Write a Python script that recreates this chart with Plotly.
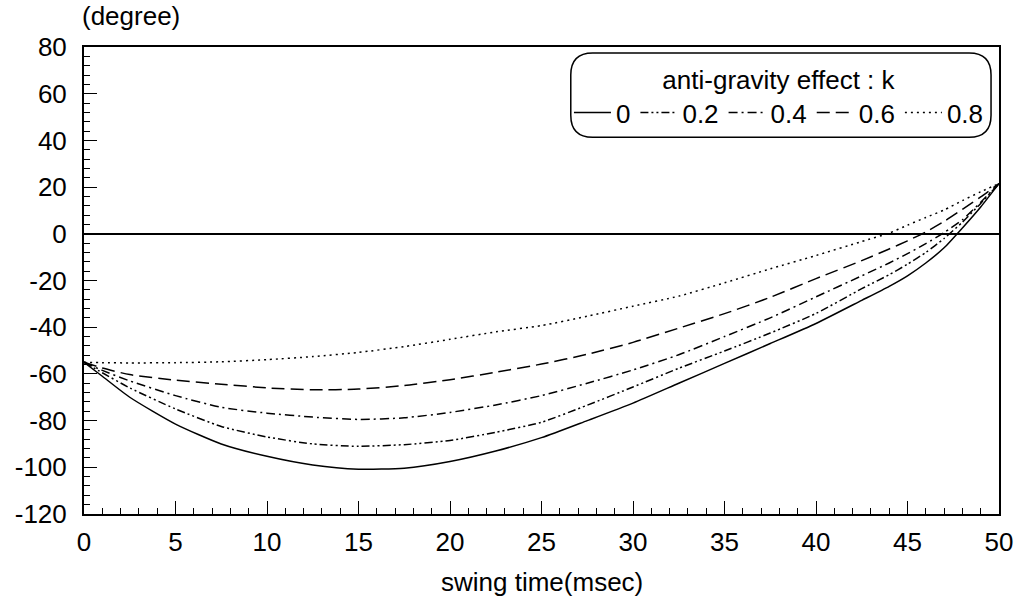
import plotly.graph_objects as go

# swing time (msec) sample points shared by every curve
swing_time = [0, 1, 2.5, 5, 7.5, 10, 12.5, 15, 17.5, 20, 22.5, 25, 27.5, 30,
              32.5, 35, 37.5, 40, 42.5, 44, 45, 46, 47, 48, 49, 50]

# angle (degree) for each anti-gravity coefficient k
angle_k00 = [-55, -61, -70, -81.5, -90, -95.3, -99, -100.8, -100.4, -97.5, -93, -87.3, -80, -72.5,
             -64, -55.5, -47, -38.4, -28.5, -22.5, -18, -12.5, -6, 2.5, 11.5, 21.5]
angle_k02 = [-55, -59.5, -66, -75, -82.5, -87, -90, -91, -90.3, -88.5, -85, -80.7, -73.4, -65.6,
             -57.6, -50.2, -42.5, -34.1, -23.5, -17.5, -13, -8, -2, 5, 13, 21.5]
angle_k04 = [-55, -58.5, -63, -69.3, -74.3, -76.8, -78.5, -79.5, -78.8, -76.5, -73.3, -69.3, -64, -58.3,
             -51.8, -44, -36, -27, -18, -12.5, -8.5, -4.2, 0.5, 6, 13.5, 21.5]
angle_k06 = [-55, -57.5, -60.3, -62.7, -64.4, -66, -66.8, -66.5, -65, -62.5, -59.3, -55.8, -51.6, -46.5,
             -40.4, -34.2, -27.2, -19.2, -11.5, -6.5, -3, 0.8, 5.3, 10.5, 15.8, 21.5]
angle_k08 = [-55, -55.2, -55.3, -55.2, -54.8, -53.9, -52.6, -50.8, -48.3, -45.2, -42, -39.3, -35.3, -31,
             -26.7, -21, -15, -9.3, -3.3, 0.3, 3.7, 7, 10.2, 14.2, 18, 21.5]

k_labels = ["0", "0.2", "0.4", "0.6", "0.8"]
x_ticks = [0, 5, 10, 15, 20, 25, 30, 35, 40, 45, 50]
y_ticks = [-120, -100, -80, -60, -40, -20, 0, 20, 40, 60, 80]

series = [angle_k00, angle_k02, angle_k04, angle_k06, angle_k08]
dashes = ["solid", "8px,3px,2px,3px,2px,3px", "9px,4px,2px,4px", "13px,6px", "2px,4px"]

FONT = "Liberation Sans, Arial, sans-serif"
FS = 26

fig = go.Figure()
for label, values, dash in zip(k_labels, series, dashes):
    fig.add_trace(go.Scatter(
        x=swing_time, y=values, mode="lines", name=label,
        line=dict(color="black", width=1.5, dash=dash, shape="spline", smoothing=0.6),
        hoverinfo="skip",
    ))

fig.update_xaxes(
    range=[0, 50], tickvals=x_ticks, ticktext=[str(v) for v in x_ticks],
    ticks="inside", ticklen=13, tickwidth=1.2, tickcolor="black",
    minor=dict(ticks="inside", dtick=1, ticklen=6, tickwidth=1, tickcolor="black"),
    showline=True, linecolor="black", linewidth=2, mirror=True,
    showgrid=False, zeroline=False, ticklabelstandoff=4,
    tickfont=dict(family=FONT, size=FS, color="black"),
)
fig.update_yaxes(
    range=[-120, 80], tickvals=y_ticks, ticktext=[str(v) for v in y_ticks],
    ticks="inside", ticklen=13, tickwidth=1.2, tickcolor="black",
    minor=dict(ticks="inside", dtick=4, ticklen=6, tickwidth=1, tickcolor="black"),
    showline=True, linecolor="black", linewidth=2, mirror=True,
    showgrid=False, zeroline=True, zerolinecolor="black", zerolinewidth=1.5,
    ticklabelstandoff=10,
    tickfont=dict(family=FONT, size=FS, color="black"),
)

# rounded frame around the legend
bx0, bx1, by0, by1 = 0.532, 0.9913, 0.807, 0.987
rx, ry = 22 / 919, 22 / 467
frame = (f"M {bx0 + rx},{by1} L {bx1 - rx},{by1} Q {bx1},{by1} {bx1},{by1 - ry} "
         f"L {bx1},{by0 + ry} Q {bx1},{by0} {bx1 - rx},{by0} "
         f"L {bx0 + rx},{by0} Q {bx0},{by0} {bx0},{by0 + ry} "
         f"L {bx0},{by1 - ry} Q {bx0},{by1} {bx0 + rx},{by1} Z")
fig.add_shape(type="path", path=frame, xref="paper", yref="paper",
              line=dict(color="black", width=1.5), layer="above")

fig.add_annotation(text="(degree)", xref="paper", yref="paper", x=-0.004, y=1.066,
                   xanchor="left", yanchor="middle", showarrow=False,
                   font=dict(family=FONT, size=FS, color="black"))
fig.add_annotation(text="swing time(msec)", xref="paper", yref="paper", x=0.5005, y=-0.1456,
                   xanchor="center", yanchor="middle", showarrow=False,
                   font=dict(family=FONT, size=FS, color="black"))

fig.update_layout(
    width=1025, height=602,
    margin=dict(l=84, r=22, t=47, b=88),
    paper_bgcolor="white", plot_bgcolor="white",
    showlegend=True,
    legend=dict(
        orientation="h", x=0.530, y=0.982, xanchor="left", yanchor="top",
        bgcolor="rgba(0,0,0,0)", borderwidth=0,
        title=dict(text="anti-gravity effect : k", side="top center",
                   font=dict(family=FONT, size=FS, color="black")),
        font=dict(family=FONT, size=FS, color="black"),
        itemwidth=37, tracegroupgap=0,
    ),
)

fig.write_html("out.html")
